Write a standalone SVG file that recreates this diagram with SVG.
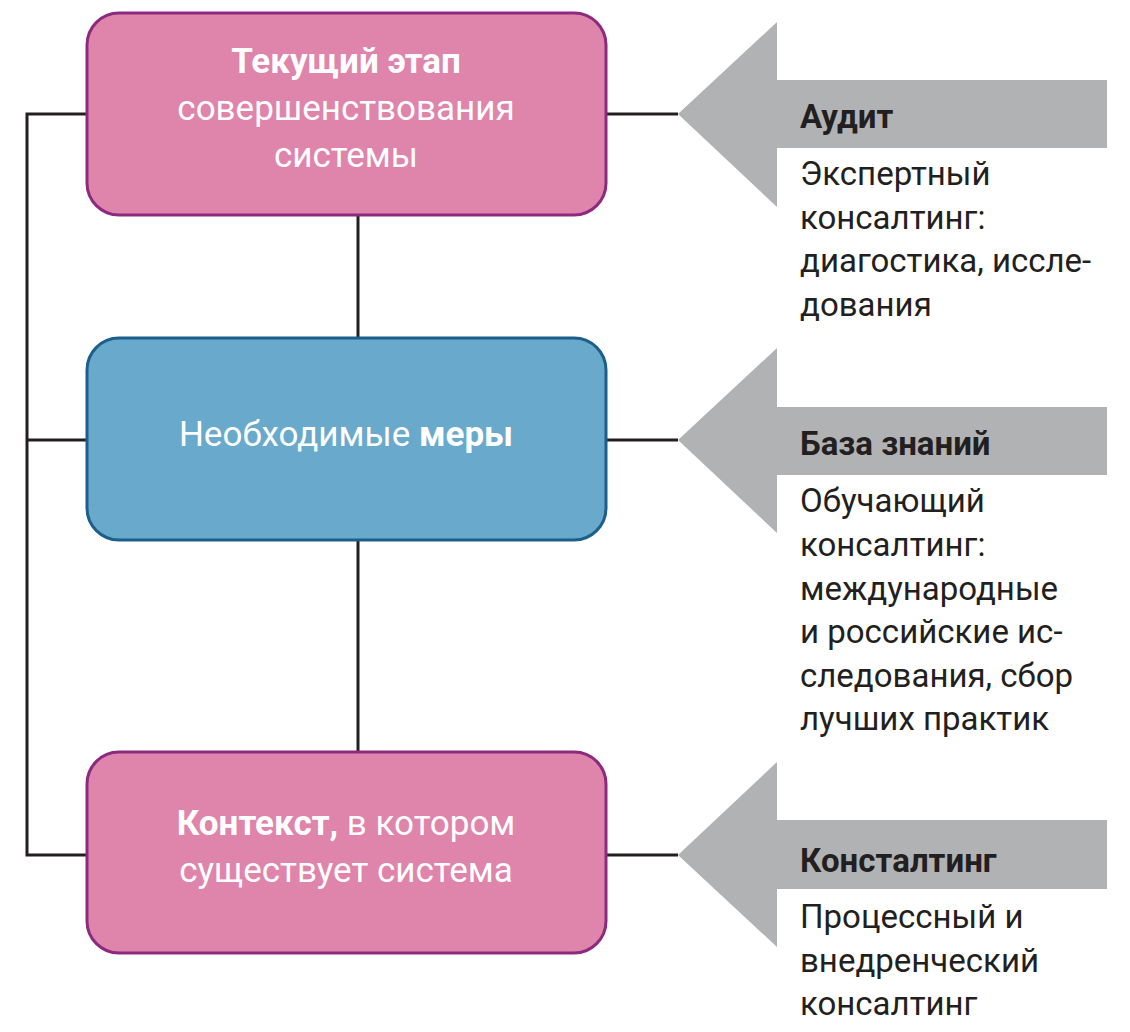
<svg xmlns="http://www.w3.org/2000/svg" width="1130" height="1032" viewBox="0 0 1130 1032">
<style>
.pink{fill:#df84ab;stroke:#8e2a7e;stroke-width:3}
.blue{fill:#68a9cc;stroke:#1c5f8a;stroke-width:3}
.ln{stroke:#231f20;stroke-width:3;fill:none}
.arr{fill:#b1b2b4}
.w{font-family:Roboto,"Liberation Sans",sans-serif;font-size:35px;fill:#fff;text-anchor:middle}
.d{font-family:Roboto,"Liberation Sans",sans-serif;font-size:33px;fill:#231f20}
.b{font-weight:bold}
</style>
<rect width="1130" height="1032" fill="#fff"/>
<g id="connectors" class="ln">
<polyline points="87,114 27,114 27,855 87,855"/>
<line x1="27" y1="440" x2="87" y2="440"/>
<line x1="358" y1="215" x2="358" y2="338"/>
<line x1="358" y1="540" x2="358" y2="752"/>
<line x1="606" y1="114" x2="678" y2="114"/>
<line x1="606" y1="440" x2="678" y2="440"/>
<line x1="606" y1="855" x2="678" y2="855"/>
</g>
<g id="node1"><rect class="pink" x="87" y="13" width="519" height="202" rx="32"/>
<text class="w b" x="346" y="73">Текущий этап</text>
<text class="w" x="346" y="120">совершенствования</text>
<text class="w" x="346" y="167">системы</text></g>
<g id="node2"><rect class="blue" x="87" y="338" width="519" height="202" rx="32"/>
<text class="w" x="346" y="446">Необходимые <tspan class="b">меры</tspan></text></g>
<g id="node3"><rect class="pink" x="87" y="752" width="519" height="201" rx="32"/>
<text class="w" x="346" y="835"><tspan class="b">Контекст,</tspan> в котором</text>
<text class="w" x="346" y="882">существует система</text></g>
<g id="audit"><polygon class="arr" points="678,114 777,22 777,80 1107,80 1107,148 777,148 777,207"/>
<text class="d b" x="800" y="128" font-size="36">Аудит</text>
<text class="d" x="800" y="185">Экспертный</text>
<text class="d" x="800" y="229">консалтинг:</text>
<text class="d" x="800" y="272">диагостика, иссле-</text>
<text class="d" x="800" y="316">дования</text></g>
<g id="kb"><polygon class="arr" points="678,440 777,348 777,407 1107,407 1107,475 777,475 777,533"/>
<text class="d b" x="800" y="455" font-size="36">База знаний</text>
<text class="d" x="800" y="512">Обучающий</text>
<text class="d" x="800" y="556">консалтинг:</text>
<text class="d" x="800" y="600">международные</text>
<text class="d" x="800" y="643">и российские ис-</text>
<text class="d" x="800" y="687">следования, сбор</text>
<text class="d" x="800" y="730">лучших практик</text></g>
<g id="consult"><polygon class="arr" points="678,855 777,762 777,820 1107,820 1107,889 777,889 777,947"/>
<text class="d b" x="800" y="872" font-size="36">Констaлтинг</text>
<text class="d" x="800" y="928">Процессный и</text>
<text class="d" x="800" y="972">внедренческий</text>
<text class="d" x="800" y="1015">консалтинг</text></g>
</svg>
